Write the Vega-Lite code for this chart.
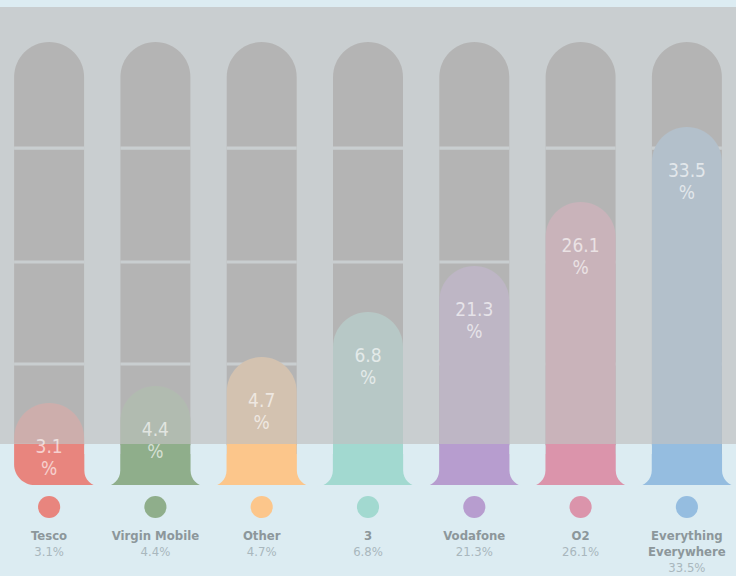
{
  "$schema": "https://vega.github.io/schema/vega-lite/v6.json",
  "width": 736,
  "height": 576,
  "padding": 0,
  "autosize": "none",
  "background": "#dcecf2",
  "config": {
    "view": {"stroke": null},
    "locale": {"number": {"decimal": ".", "thousands": ",", "grouping": [3], "currency": ["", "%"]}}
  },
  "data": {
    "values": [
      {"company": "Tesco", "share": 3.1},
      {"company": "Virgin Mobile", "share": 4.4},
      {"company": "Other", "share": 4.7},
      {"company": "3", "share": 6.8},
      {"company": "Vodafone", "share": 21.3},
      {"company": "O2", "share": 26.1},
      {"company": "Everything Everywhere", "share": 33.5}
    ]
  },
  "resolve": {"scale": {"y": "independent"}},
  "encoding": {
    "x": {"field": "company", "type": "nominal", "sort": null, "axis": null,
          "scale": {"paddingInner": 0.3415, "paddingOuter": 0.1327}}
  },
  "layer": [
    {
      "mark": {"type": "bar", "color": "#999999", "cornerRadiusTopLeft": 35, "cornerRadiusTopRight": 35},
      "encoding": {
        "y": {"datum": 100, "type": "quantitative", "axis": null, "scale": {"domain": [-20.54, 109.48], "nice": false, "zero": false}},
        "y2": {"datum": 0}
      }
    },
    {
      "mark": {"type": "bar", "color": "#dcecf2"},
      "encoding": {
        "y": {"datum": 76.4, "type": "quantitative", "axis": null, "scale": {"domain": [-20.54, 109.48], "nice": false, "zero": false}},
        "y2": {"datum": 75.7}
      }
    },
    {
      "mark": {"type": "bar", "color": "#dcecf2"},
      "encoding": {
        "y": {"datum": 50.7, "type": "quantitative", "axis": null, "scale": {"domain": [-20.54, 109.48], "nice": false, "zero": false}},
        "y2": {"datum": 50.0}
      }
    },
    {
      "mark": {"type": "bar", "color": "#dcecf2"},
      "encoding": {
        "y": {"datum": 27.65, "type": "quantitative", "axis": null, "scale": {"domain": [-20.54, 109.48], "nice": false, "zero": false}},
        "y2": {"datum": 26.97}
      }
    },
    {
      "mark": {"type": "bar", "cornerRadiusTopLeft": 35, "cornerRadiusTopRight": 35},
      "encoding": {
        "y": {"field": "share", "type": "quantitative", "axis": null,
              "scale": {"domain": [0, 3.1, 4.4, 4.7, 6.8, 21.3, 26.1, 33.5], "range": [485, 403, 386, 357, 312, 266, 202, 127], "nice": false, "zero": false}},
        "y2": {"datum": 0},
        "color": {"field": "company", "type": "nominal", "legend": null,
                  "scale": {"domain": ["Tesco", "Virgin Mobile", "Other", "3", "Vodafone", "O2", "Everything Everywhere"],
                            "range": ["#e8857e", "#8fae8b", "#fcc68b", "#a2d9d0", "#b79dcf", "#db94ab", "#95bde0"]}}
      }
    },
    {
      "mark": {"type": "bar", "width": {"band": 1.52}},
      "encoding": {
        "y": {"datum": 7, "type": "quantitative", "axis": null, "scale": {"domain": [-20.54, 109.48], "nice": false, "zero": false}},
        "y2": {"datum": 0},
        "color": {"field": "company", "type": "nominal", "legend": null}
      }
    },
    {
      "mark": {"type": "bar", "color": "#dcecf2", "width": 36, "xOffset": 53.15, "cornerRadiusBottomLeft": 16, "cornerRadiusBottomRight": 16},
      "encoding": {
        "y": {"datum": 9, "type": "quantitative", "axis": null, "scale": {"domain": [-20.54, 109.48], "nice": false, "zero": false}},
        "y2": {"datum": -0.34}
      }
    },
    {
      "transform": [{"filter": "datum.company === 'Tesco'"}],
      "mark": {"type": "bar", "color": "#dcecf2", "width": 72, "xOffset": -35},
      "encoding": {
        "y": {"datum": 9.3, "type": "quantitative", "axis": null, "scale": {"domain": [-20.54, 109.48], "nice": false, "zero": false}},
        "y2": {"datum": -0.34}
      }
    },
    {
      "transform": [{"filter": "datum.company === 'Tesco'"}],
      "mark": {"type": "bar", "cornerRadiusBottomLeft": 26},
      "encoding": {
        "y": {"datum": 9.3, "type": "quantitative", "axis": null, "scale": {"domain": [-20.54, 109.48], "nice": false, "zero": false}},
        "y2": {"datum": 0},
        "color": {"field": "company", "type": "nominal", "legend": null}
      }
    },
    {
      "data": {"values": [{"panel": "overlay"}]},
      "mark": {"type": "rect", "fill": "#c0c0c0", "fillOpacity": 0.69, "strokeWidth": 0},
      "encoding": {
        "x": null,
        "y": {"datum": 107.9, "type": "quantitative", "axis": null, "scale": {"domain": [-20.54, 109.48], "nice": false, "zero": false}},
        "y2": {"datum": 9.26}
      }
    },
    {
      "mark": {"type": "text", "color": "#ffffff", "opacity": 0.62, "fontSize": 19, "font": "DejaVu Sans Condensed, DejaVu Sans, sans-serif", "dy": 44, "baseline": "middle"},
      "encoding": {
        "y": {"field": "share", "type": "quantitative", "axis": null,
              "scale": {"domain": [0, 3.1, 4.4, 4.7, 6.8, 21.3, 26.1, 33.5], "range": [485, 403, 386, 357, 312, 266, 202, 127], "nice": false, "zero": false}},
        "text": {"field": "share", "type": "quantitative", "format": ".1f"}
      }
    },
    {
      "mark": {"type": "text", "color": "#ffffff", "opacity": 0.62, "fontSize": 19, "font": "DejaVu Sans Condensed, DejaVu Sans, sans-serif", "dy": 66, "baseline": "middle", "text": "%"},
      "encoding": {
        "y": {"field": "share", "type": "quantitative", "axis": null,
              "scale": {"domain": [0, 3.1, 4.4, 4.7, 6.8, 21.3, 26.1, 33.5], "range": [485, 403, 386, 357, 312, 266, 202, 127], "nice": false, "zero": false}}
      }
    },
    {
      "mark": {"type": "circle", "size": 490, "opacity": 1},
      "encoding": {
        "y": {"datum": -4.97, "type": "quantitative", "axis": null, "scale": {"domain": [-20.54, 109.48], "nice": false, "zero": false}},
        "color": {"field": "company", "type": "nominal", "legend": null}
      }
    },
    {
      "transform": [{"filter": "datum.company !== 'Everything Everywhere'"}],
      "mark": {"type": "text", "color": "#8c979b", "fontSize": 13, "fontWeight": "bold", "font": "DejaVu Sans Condensed, DejaVu Sans, sans-serif", "baseline": "middle"},
      "encoding": {
        "y": {"datum": -11.5, "type": "quantitative", "axis": null, "scale": {"domain": [-20.54, 109.48], "nice": false, "zero": false}},
        "text": {"field": "company"}
      }
    },
    {
      "transform": [{"filter": "datum.company === 'Everything Everywhere'"}],
      "mark": {"type": "text", "color": "#8c979b", "fontSize": 13, "fontWeight": "bold", "font": "DejaVu Sans Condensed, DejaVu Sans, sans-serif", "baseline": "middle", "lineBreak": " ", "lineHeight": 16},
      "encoding": {
        "y": {"datum": -11.5, "type": "quantitative", "axis": null, "scale": {"domain": [-20.54, 109.48], "nice": false, "zero": false}},
        "text": {"field": "company"}
      }
    },
    {
      "transform": [{"filter": "datum.company !== 'Everything Everywhere'"}],
      "mark": {"type": "text", "color": "#a9b7bd", "fontSize": 13, "font": "DejaVu Sans Condensed, DejaVu Sans, sans-serif", "baseline": "middle"},
      "encoding": {
        "y": {"datum": -15.1, "type": "quantitative", "axis": null, "scale": {"domain": [-20.54, 109.48], "nice": false, "zero": false}},
        "text": {"field": "share", "type": "quantitative", "format": "$.1f"}
      }
    },
    {
      "transform": [{"filter": "datum.company === 'Everything Everywhere'"}],
      "mark": {"type": "text", "color": "#a9b7bd", "fontSize": 13, "font": "DejaVu Sans Condensed, DejaVu Sans, sans-serif", "baseline": "middle"},
      "encoding": {
        "y": {"datum": -18.7, "type": "quantitative", "axis": null, "scale": {"domain": [-20.54, 109.48], "nice": false, "zero": false}},
        "text": {"field": "share", "type": "quantitative", "format": "$.1f"}
      }
    }
  ]
}
